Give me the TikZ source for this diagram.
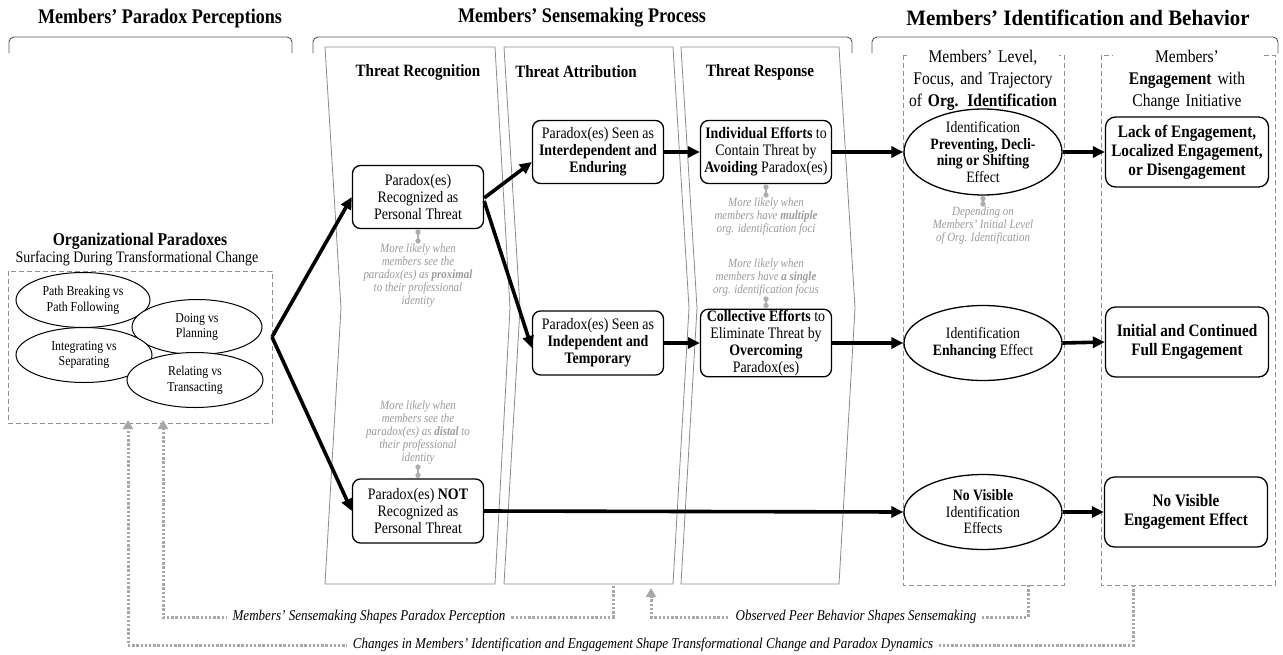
\documentclass[tikz,border=0pt]{standalone}
\usepackage{fontspec}
\setmainfont{Liberation Serif}[FakeStretch=0.87]
\newfontfamily\wideserif{Liberation Serif}[FakeStretch=0.95]
\usetikzlibrary{arrows.meta,shapes.geometric}
\definecolor{notegray}{HTML}{9A9A9A}
\definecolor{panelgray}{HTML}{8A8A8A}
\definecolor{dashgray}{HTML}{909090}
\definecolor{fbgray}{HTML}{A8A8A8}
\definecolor{brgray}{HTML}{555555}
\begin{document}
\begin{tikzpicture}[x=1pt,y=-1pt,
  head/.style={font=\fontsize{20.8}{24}\selectfont\bfseries},
  bracket/.style={draw=brgray, line width=0.9pt, rounded corners=5pt},
  panel/.style={draw=panelgray, line width=0.8pt},
  ptitle/.style={font=\fontsize{17.3}{20}\selectfont\bfseries},
  box/.style={draw, line width=1.3pt, rounded corners=8pt, align=center,
    font=\fontsize{16}{17}\selectfont, minimum width=131pt, minimum height=63pt, inner sep=1pt, fill=white},
  ebox/.style={draw, line width=1.3pt, rounded corners=10pt, align=center,
    font=\fontsize{17.5}{19}\selectfont\bfseries, minimum width=163pt, minimum height=70pt, inner sep=1pt, fill=white},
  bigell/.style={ellipse, draw, line width=1.3pt, align=center, fill=white,
    font=\fontsize{15.8}{16.5}\selectfont, minimum width=158pt, minimum height=75pt, inner sep=0pt},
  pell/.style={ellipse, draw, line width=1pt, align=center, fill=white,
    font=\fontsize{13.6}{15.5}\selectfont, minimum width=134pt, minimum height=55pt, inner sep=0pt},
  note/.style={text=notegray, font=\fontsize{12.6}{13}\selectfont\itshape, align=center, inner sep=0pt},
  connline/.style={draw=notegray!80, line width=1.5pt},
  cdot/.style={fill=notegray!80},
  flow/.style={line width=3.6pt, -{Triangle[length=12pt,width=11pt]}},
  dbox/.style={draw=dashgray, line width=1pt, dash pattern=on 5pt off 3pt},
  fb/.style={draw=fbgray, line width=3pt, dash pattern=on 2.4pt off 1.8pt},
  fbtip/.style={-{Triangle[length=9pt,width=10pt]}},
  fbtext/.style={font=\fontsize{15}{16}\selectfont\itshape, fill=white, inner xsep=6pt, inner ysep=2pt},
  coltitle/.style={font=\fontsize{17.8}{22}\selectfont, align=center, fill=white, inner sep=2pt}
]
\useasboundingbox (0,0) rectangle (1283,654);

% headers
\node[head] (h1) at (160,18) {Members’ Paradox Perceptions};
\node[head] (h2) at (582,18) {Members’ Sensemaking Process};
\node[font=\wideserif\fontsize{22}{24}\selectfont\bfseries] (h3) at (1078,18) {Members’ Identification and Behavior};
\draw[bracket] (9,53) -- (9,37) -- (292,37) -- (292,53);
\draw[bracket] (313,53) -- (313,37) -- (852,37) -- (852,53);
\draw[bracket] (872,53) -- (872,37) -- (1278,37) -- (1278,53);

% panels
\draw[panel] (325,47) -- (495,47) -- (510,308) -- (495,584) -- (325,584) -- (341,308) -- cycle;
\draw[panel] (504,47) -- (673,47) -- (689,308) -- (673,584) -- (504,584) -- (520,308) -- cycle;
\draw[panel] (681,47) -- (839,47) -- (855,308) -- (839,584) -- (681,584) -- (697,308) -- cycle;
\node[ptitle] (t1) at (418,72) {Threat Recognition};
\node[ptitle] (t2) at (576,72) {Threat Attribution};
\node[ptitle] (t3) at (760,72) {Threat Response};

% left block
\node[font=\fontsize{18}{20}\selectfont\bfseries] (op) at (140,241) {Organizational Paradoxes};
\node[font=\fontsize{16}{18}\selectfont] (op2) at (137,259) {Surfacing During Transformational Change};
\draw[dbox] (8,271) rectangle (272,423);
\coordinate (lbR) at (272,337);
\coordinate (lbB1) at (128,423);
\coordinate (lbB2) at (163,423);
\node[pell] (pe1) at (83,300) {Path Breaking vs\\Path Following};
\node[pell, minimum width=130pt] (pe2) at (197,327) {Doing vs\\Planning};
\node[pell, minimum width=136pt] (pe3) at (84,355) {Integrating vs\\Separating};
\node[pell, minimum width=136pt] (pe4) at (195,380) {Relating vs\\Transacting};

% columns 4 and 5
\draw[dbox] (903,55) rectangle (1064,585);
\draw[dbox] (1101,55) rectangle (1275,585);
\node[coltitle, text width=148pt, anchor=north] (c4) at (983,48) {Members’ Level,\\Focus, and Trajectory\\of \textbf{Org. Identification}};
\node[coltitle, text width=144pt, anchor=north] (c5) at (1187,48) {Members’\\\textbf{Engagement} with\\Change Initiative};
\coordinate (c4b) at (1028,585);
\coordinate (c5b) at (1133,585);

% threat recognition boxes
\node[box] (rec) at (418,197) {Paradox(es)\\Recognized as\\Personal Threat};
\node[box, minimum height=64pt] (nrec) at (418,511) {Paradox(es) \textbf{NOT}\\Recognized as\\Personal Threat};
\node[note, anchor=north] (n1) at (418,244) {More likely when\\members see the\\paradox(es) as \textbf{proximal}\\to their professional\\identity};
\node[note, anchor=south] (n2) at (418,464) {More likely when\\members see the\\paradox(es) as \textbf{distal} to\\their professional\\identity};
\draw[connline] ([yshift=-3pt]rec.south) -- ([yshift=3pt]n1.north);
\fill[cdot] ([yshift=-3pt]rec.south) circle (2.7pt) ([yshift=3pt]n1.north) circle (2.7pt);
\draw[connline] ([yshift=-3pt]n2.south) -- ([yshift=3pt]nrec.north);
\fill[cdot] ([yshift=-3pt]n2.south) circle (2.7pt) ([yshift=3pt]nrec.north) circle (2.7pt);

% attribution boxes
\node[box] (inter) at (598,152) {Paradox(es) Seen as\\\textbf{Interdependent and}\\\textbf{Enduring}};
\node[box, minimum height=64pt] (indep) at (598,343) {Paradox(es) Seen as\\\textbf{Independent and}\\\textbf{Temporary}};

% response boxes
\node[box] (indiv) at (766,152) {\textbf{Individual Efforts} to\\Contain Threat by\\\textbf{Avoiding} Paradox(es)};
\node[box, minimum height=64pt] (coll) at (766,343) {\textbf{Collective Efforts} to\\Eliminate Threat by\\\textbf{Overcoming}\\Paradox(es)};
\node[note, anchor=north] (n3) at (766,198) {More likely when\\members have \textbf{multiple}\\org. identification foci};
\node[note, anchor=south] (n4) at (766,296) {More likely when\\members have \textbf{a single}\\org. identification focus};
\draw[connline] ([yshift=-3pt]indiv.south) -- ([yshift=3pt]n3.north);
\fill[cdot] ([yshift=-3pt]indiv.south) circle (2.7pt) ([yshift=3pt]n3.north) circle (2.7pt);
\draw[connline] ([yshift=-3pt]n4.south) -- ([yshift=3pt]coll.north);
\fill[cdot] ([yshift=-3pt]n4.south) circle (2.7pt) ([yshift=3pt]coll.north) circle (2.7pt);

% identification ellipses
\node[bigell] (ie1) at (983,152) {Identification\\\textbf{Preventing, Decli-}\\\textbf{ning or Shifting}\\Effect};
\node[bigell] (ie2) at (983,343) {Identification\\\textbf{Enhancing} Effect};
\node[bigell] (ie3) at (983,512) {\textbf{No Visible}\\Identification\\Effects};
\node[note, anchor=north] (n5) at (983,207) {Depending on\\Members’ Initial Level\\of Org. Identification};
\draw[connline] ([yshift=-3pt]ie1.south) -- ([yshift=3pt]n5.north);
\fill[cdot] ([yshift=-3pt]ie1.south) circle (2.7pt) ([yshift=3pt]n5.north) circle (2.7pt);

% engagement boxes
\node[ebox] (en1) at (1187,152) {Lack of Engagement,\\Localized Engagement,\\or Disengagement};
\node[ebox] (en2) at (1187,342) {Initial and Continued\\Full Engagement};
\node[ebox] (en3) at (1186,512) {No Visible\\Engagement Effect};

% main flows
\draw[flow] (lbR) -- (rec.west);
\draw[flow] (lbR) -- (nrec.west);
\draw[flow] (rec.east) ++(0,1) -- ([yshift=-10pt]inter.west);
\draw[flow] (rec.east) ++(0,4) -- ([yshift=-5pt]indep.west);
\draw[flow] (inter.east) -- (indiv.west);
\draw[flow] (indep.east) -- (coll.west);
\draw[flow] (indiv.east) -- (ie1.west);
\draw[flow] (coll.east) -- (ie2.west);
\draw[flow] (nrec.east) -- (ie3.west);
\draw[flow] (ie1.east) -- (en1.west);
\draw[flow] (ie2.east) -- (en2.west);
\draw[flow] (ie3.east) -- (en3.west);

% feedback loops
\coordinate (p2b1) at (613,586);
\coordinate (p2b2) at (651,588);
\draw[fb, fbtip] (p2b1) -- (613,617) -- (163,617) -- ([yshift=3pt]lbB2);
\draw[fb, fbtip] (c4b) -- (1028,617) -- (651,617) -- (p2b2);
\draw[fb, fbtip] (c5b) -- (1133,645) -- (128,645) -- ([yshift=3pt]lbB1);
\node[fbtext] (f1) at (369,617) {Members’ Sensemaking Shapes Paradox Perception};
\node[fbtext] (f2) at (856,617) {Observed Peer Behavior Shapes Sensemaking};
\node[fbtext] (f3) at (643,645) {Changes in Members’ Identification and Engagement Shape Transformational Change and Paradox Dynamics};
\end{tikzpicture}
\end{document}
